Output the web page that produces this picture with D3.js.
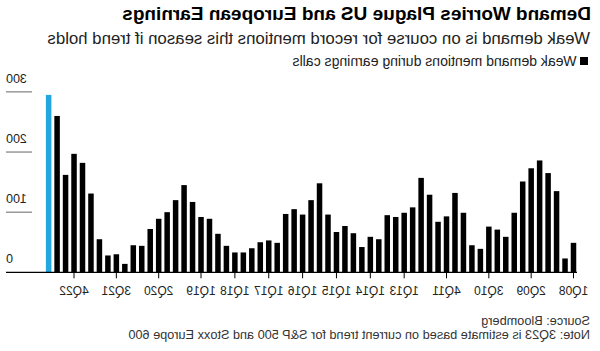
<!DOCTYPE html>
<html>
<head>
<meta charset="utf-8">
<script src="https://cdn.jsdelivr.net/npm/d3@7/dist/d3.min.js"></script>
<style>
  html, body { margin: 0; padding: 0; background: #fff; }
  svg { display: block; }
  text { font-family: "Liberation Sans", Arial, Helvetica, sans-serif; }
</style>
</head>
<body>
<script>
// ---- Data ----
const categories = [
  "1Q08","2Q08","3Q08","4Q08","1Q09","2Q09","3Q09","4Q09",
  "1Q10","2Q10","3Q10","4Q10","1Q11","2Q11","3Q11","4Q11",
  "1Q12","2Q12","3Q12","4Q12","1Q13","2Q13","3Q13","4Q13",
  "1Q14","2Q14","3Q14","4Q14","1Q15","2Q15","3Q15","4Q15",
  "1Q16","2Q16","3Q16","4Q16","1Q17","2Q17","3Q17","4Q17",
  "1Q18","2Q18","3Q18","4Q18","1Q19","2Q19","3Q19","4Q19",
  "1Q20","2Q20","3Q20","4Q20","1Q21","2Q21","3Q21","4Q21",
  "1Q22","2Q22","3Q22","4Q22","1Q23","2Q23","3Q23"
];
const mentions = [
  49, 23, 135, 165, 186, 173, 151, 99,
  59, 71, 76, 39, 45, 99, 132, 93,
  84, 129, 157, 108, 99, 92, 95, 55,
  59, 42, 65, 77, 67, 96, 148, 120,
  96, 105, 97, 49, 53, 50, 40, 33,
  33, 44, 64, 89, 92, 117, 145, 120,
  100, 89, 72, 44, 45, 14, 30, 28,
  55, 131, 182, 197, 162, 260, 295
];
const estimateCategory = "3Q23";
const tickLabels = ["1Q08","2Q09","3Q10","4Q11","1Q13","1Q14","1Q15","1Q16","1Q17","1Q18","1Q19","2Q20","3Q21","4Q22"];
const yTicks = [0, 100, 200, 300];

const title = "Demand Worries Plague US and European Earnings";
const subtitle = "Weak demand is on course for record mentions this season if trend holds";
const legendLabel = "Weak demand mentions during earnings calls";
const sourceText = "Source: Bloomberg";
const noteText = "Note: 3Q23 is estimate based on current trend for S&P 500 and Stoxx Europe 600";

// ---- Layout ----
const W = 600, H = 351;
const svg = d3.select("body").append("svg").attr("width", W).attr("height", H);
// The reference is a horizontally mirrored rendering
const root = svg.append("g").attr("transform", `translate(${W},0) scale(-1,1)`);

function fit(sel, w) {
  const l = sel.node().getComputedTextLength();
  const fs = parseFloat(sel.attr("font-size"));
  const nfs = fs * w / l;
  sel.attr("font-size", nfs.toFixed(2));
  return nfs;
}

const x = d3.scaleBand().domain(categories).range([22.27, 555.6])
  .paddingInner(0.35).paddingOuter(0.175);
const y = d3.scaleLinear().domain([0, 300]).range([272.3, 91.9]);

// Titles
fit(root.append("text").attr("x", 9).attr("y", 19.5).attr("font-size", 16)
  .attr("font-weight", "bold").attr("fill", "#000").text(title), 469);
fit(root.append("text").attr("x", 10).attr("y", 43.5).attr("font-size", 15)
  .attr("fill", "#222").text(subtitle), 543);

// Legend
root.append("rect").attr("x", 12).attr("y", 57).attr("width", 8).attr("height", 8).attr("fill", "#000");
fit(root.append("text").attr("x", 23.5).attr("y", 65.5).attr("font-size", 13)
  .attr("fill", "#222").text(legendLabel), 284);

// Y grid stubs & labels (right side)
const yg = root.append("g");
yg.selectAll("line").data(yTicks.filter(d => d > 0)).join("line")
  .attr("x1", 568).attr("x2", 594)
  .attr("y1", d => y(d)).attr("y2", d => y(d))
  .attr("stroke", "#666").attr("stroke-width", 1);
yg.selectAll("text").data(yTicks).join("text")
  .attr("x", 594).attr("y", d => y(d) - 9)
  .attr("text-anchor", "end").attr("font-size", 12.5).attr("fill", "#222")
  .text(d => d);

// Bars
root.append("g").selectAll("rect")
  .data(categories.map((c, i) => ({ c, v: mentions[i] })))
  .join("rect")
  .attr("x", d => x(d.c)).attr("width", x.bandwidth())
  .attr("y", d => y(d.v)).attr("height", d => y(0) - y(d.v))
  .attr("fill", d => d.c === estimateCategory ? "#22a7e0" : "#000");

// X axis
const xAxis = d3.axisBottom(x).tickValues(tickLabels).tickSize(6).tickSizeOuter(0).tickPadding(8);
const ax = root.append("g").attr("transform", `translate(0,${y(0)})`).call(xAxis);
ax.select(".domain").remove();
ax.selectAll(".tick line").attr("stroke", "#000");
ax.selectAll(".tick text").attr("font-size", 12).attr("fill", "#222")
  .attr("font-family", '"Liberation Sans", Arial, sans-serif');
root.append("line").attr("x1", 23).attr("x2", 594)
  .attr("y1", y(0)).attr("y2", y(0)).attr("stroke", "#000").attr("stroke-width", 1.2);

// Footer
const note = root.append("text").attr("x", 10).attr("y", 338.5).attr("font-size", 11)
  .attr("fill", "#333").text(noteText);
const nfs = fit(note, 462);
root.append("text").attr("x", 10).attr("y", 324.5).attr("font-size", nfs.toFixed(2))
  .attr("fill", "#333").text(sourceText);
</script>
</body>
</html>
